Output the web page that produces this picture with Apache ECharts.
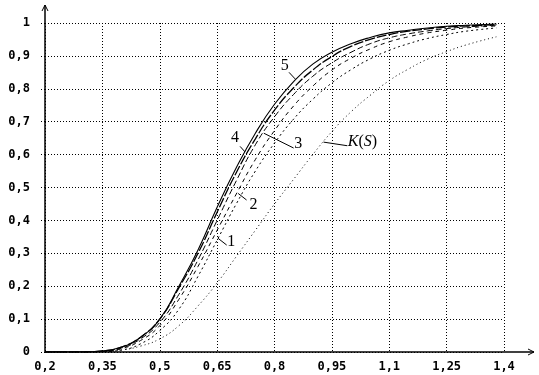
<!DOCTYPE html>
<html><head><meta charset="utf-8">
<script src="https://cdn.jsdelivr.net/npm/echarts@6/dist/echarts.min.js"></script>
<style>html,body{margin:0;padding:0;background:#fff}#c{width:539px;height:375px}</style>
</head><body><div id="c"></div>
<script>
const xs     = [0.2, 0.3, 0.35, 0.4, 0.45, 0.5, 0.55, 0.6, 0.65, 0.7, 0.75, 0.8, 0.85, 0.9, 0.95, 1.0, 1.05, 1.1, 1.15, 1.2, 1.25, 1.3, 1.38];
const curve5 = [0, 0, 0.003, 0.015, 0.045, 0.10, 0.20, 0.31, 0.44, 0.56, 0.665, 0.753, 0.822, 0.875, 0.911, 0.937, 0.956, 0.97, 0.978, 0.985, 0.99, 0.993, 0.997];
const curve4 = [0, 0, 0.003, 0.015, 0.045, 0.10, 0.195, 0.30, 0.425, 0.545, 0.648, 0.735, 0.803, 0.857, 0.898, 0.929, 0.95, 0.965, 0.975, 0.982, 0.988, 0.991, 0.995];
const curve3 = [0, 0, 0.002, 0.012, 0.04, 0.09, 0.175, 0.28, 0.40, 0.52, 0.63, 0.715, 0.783, 0.838, 0.879, 0.911, 0.937, 0.955, 0.967, 0.976, 0.983, 0.988, 0.993];
const curve2 = [0, 0, 0.002, 0.01, 0.035, 0.08, 0.16, 0.26, 0.37, 0.48, 0.585, 0.673, 0.748, 0.808, 0.857, 0.893, 0.921, 0.943, 0.958, 0.97, 0.978, 0.985, 0.991];
const curve1 = [0, 0, 0.001, 0.006, 0.025, 0.065, 0.13, 0.23, 0.34, 0.45, 0.55, 0.635, 0.708, 0.768, 0.818, 0.858, 0.891, 0.917, 0.937, 0.953, 0.965, 0.975, 0.985];
const curveK = [0, 0, 0.001, 0.006, 0.018, 0.04, 0.08, 0.14, 0.21, 0.29, 0.37, 0.45, 0.525, 0.60, 0.67, 0.73, 0.78, 0.825, 0.86, 0.89, 0.913, 0.933, 0.958];
const xTicks = [0.2, 0.35, 0.5, 0.65, 0.8, 0.95, 1.1, 1.25, 1.4];
const yTicks = [0, 0.1, 0.2, 0.3, 0.4, 0.5, 0.6, 0.7, 0.8, 0.9, 1];
const labels = [
  {text: '5', at: [0.827, 0.869], from: [0.838, 0.85], to: [0.854, 0.83]},
  {text: '4', at: [0.697, 0.652], from: [0.71, 0.625], to: [0.723, 0.608]},
  {text: '3', at: [0.862, 0.632], from: [0.85, 0.62], to: [0.772, 0.665]},
  {text: '2', at: [0.745, 0.447], from: [0.727, 0.462], to: [0.705, 0.482]},
  {text: '1', at: [0.687, 0.334], from: [0.675, 0.325], to: [0.652, 0.346]},
  {text: '{i|K}({i|S})', at: [1.03, 0.638], from: [0.99, 0.627], to: [0.928, 0.638]}
];

const fmt = v => String(+v.toFixed(2)).replace('.', ',');
const mk = (name, arr, type, width) => ({
  name, type: 'line', data: xs.map((x, i) => [x, arr[i]]),
  smooth: 0.5, symbol: 'none', silent: true,
  lineStyle: {color: '#000', width: width, type: type}
});

const chart = echarts.init(document.getElementById('c'), null, {renderer: 'canvas'});
chart.setOption({
  animation: false,
  backgroundColor: '#fff',
  grid: {left: 45, right: 35, top: 23, bottom: 23, containLabel: false},
  xAxis: {
    type: 'value', min: 0.2, max: 1.4,
    axisLine: {show: false},
    axisTick: {show: false, customValues: xTicks},
    axisLabel: {customValues: xTicks, formatter: fmt, margin: 9, color: '#000',
      fontFamily: 'DejaVu Sans Mono', fontWeight: 'bold', fontSize: 12},
    splitLine: {show: true, lineStyle: {color: '#000', width: 1, type: [1, 2]}}
  },
  yAxis: {
    type: 'value', min: 0, max: 1, interval: 0.1,
    axisLine: {show: false},
    axisTick: {show: true, length: 6, lineStyle: {color: '#000', type: [1, 2]}},
    axisLabel: {formatter: fmt, margin: 15, color: '#000',
      fontFamily: 'DejaVu Sans Mono', fontWeight: 'bold', fontSize: 12},
    splitLine: {show: true, lineStyle: {color: '#000', width: 1, type: [1, 2]}}
  },
  series: [
    mk('K(S)', curveK, [1, 3], 1),
    mk('1', curve1, [2, 3], 1),
    mk('2', curve2, [4, 4], 1),
    mk('3', curve3, [6, 3], 1),
    mk('4', curve4, [10, 2], 1.3),
    mk('5', curve5, 'solid', 1.1)
  ]
});

const P = p => chart.convertToPixel({gridIndex: 0}, p);
const o = P([0.2, 0]);
const xe = P([1.4, 0]);
const ye = P([0.2, 1]);
const g = [];
g.push({type: 'line', shape: {x1: o[0], y1: o[1], x2: xe[0] + 30, y2: o[1]}, style: {stroke: '#000', lineWidth: 1.5}});
g.push({type: 'polyline', shape: {points: [[xe[0] + 24, o[1] - 3], [xe[0] + 30, o[1]], [xe[0] + 24, o[1] + 3]]}, style: {stroke: '#000', lineWidth: 1, fill: null}});
g.push({type: 'line', shape: {x1: o[0], y1: o[1], x2: o[0], y2: ye[1] - 18}, style: {stroke: '#000', lineWidth: 1.5}});
g.push({type: 'polyline', shape: {points: [[o[0] - 3, ye[1] - 12], [o[0], ye[1] - 18], [o[0] + 3, ye[1] - 12]]}, style: {stroke: '#000', lineWidth: 1, fill: null}});
labels.forEach(l => {
  const a = P(l.at), f = P(l.from), t = P(l.to);
  g.push({type: 'line', shape: {x1: f[0], y1: f[1], x2: t[0], y2: t[1]}, style: {stroke: '#000', lineWidth: 1}});
  g.push({type: 'text', x: a[0], y: a[1], style: {
    text: l.text, fill: '#000', font: '16px "Liberation Serif"', align: 'center', verticalAlign: 'middle',
    rich: {i: {fontStyle: 'italic', fontFamily: 'Liberation Serif', fontSize: 16}}
  }});
});
chart.setOption({graphic: g});
</script>
</body></html>
